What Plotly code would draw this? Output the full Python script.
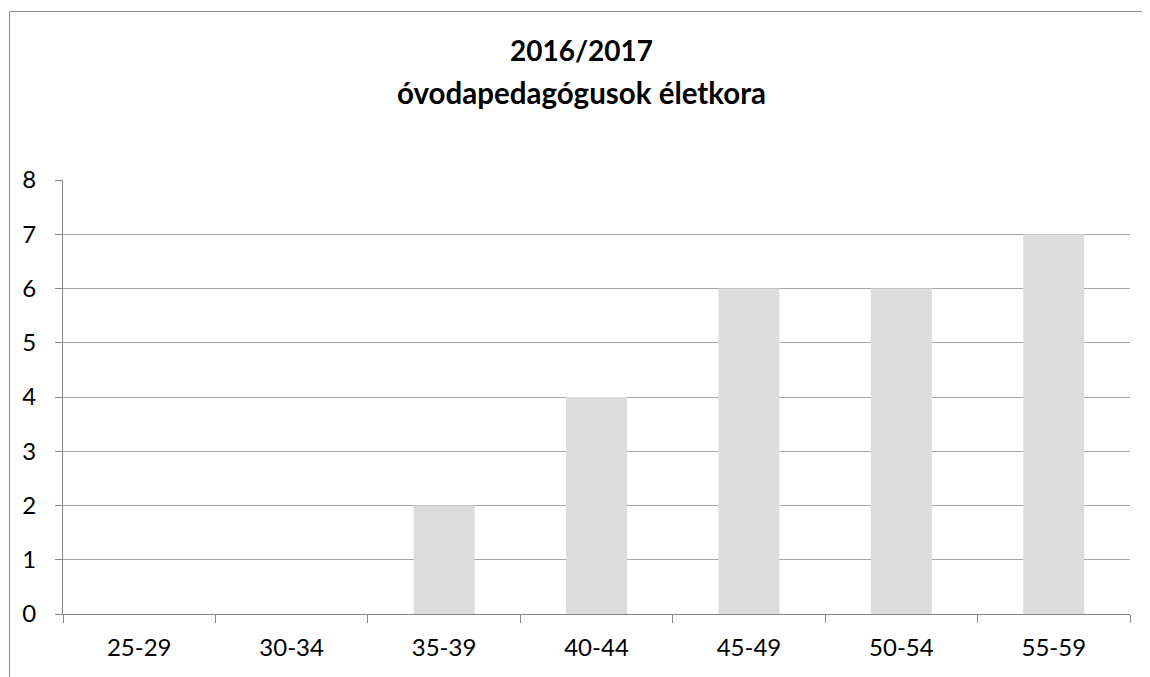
import plotly.graph_objects as go

categories = ["25-29", "30-34", "35-39", "40-44", "45-49", "50-54", "55-59"]
values = [0, 0, 2, 4, 6, 6, 7]
title_line1 = "2016/2017"
title_line2 = "óvodapedagógusok életkora"

OFF = 8  # page body margin
W, H = 1150 - OFF, 677 - OFF
# plot area in page coordinates: x 63..1130, y 180..614
L = 63 - OFF
R = W - (1130 - OFF)
T = 180 - OFF
B = H - (614 - OFF)
pw = W - L - R
ph = H - T - B

def px_x(x):
    return (x - OFF - L) / pw

def px_y(y):
    return (H - B - (y - OFF)) / ph

FONT = "Lato"

fig = go.Figure(go.Bar(x=categories, y=values, marker=dict(color="#dcdcdc", line=dict(width=0)),
                       hoverinfo="x+y"))

fig.update_layout(
    width=W, height=H,
    margin=dict(l=L, r=R, t=T, b=B),
    paper_bgcolor="white", plot_bgcolor="white",
    bargap=0.6,
    showlegend=False,
    font=dict(family=FONT, color="#000000"),
)
fig.update_xaxes(
    type="category",
    showline=True, linecolor="#868686", linewidth=1,
    ticks="outside", tickson="boundaries", ticklen=8, tickcolor="#868686",
    tickfont=dict(family=FONT, size=24, color="#000000"),
    showgrid=False, zeroline=False,
    ticklabelstandoff=12,
)
fig.update_yaxes(
    range=[0, 8], dtick=1, tick0=0,
    showline=True, linecolor="#868686", linewidth=1,
    ticks="outside", ticklen=7, tickcolor="#868686",
    tickfont=dict(family=FONT, size=24, color="#000000"),
    showgrid=True, gridcolor="#a6a6a6", gridwidth=1,
    zeroline=False,
    ticklabelstandoff=14,
)

# chart border (left and top edges visible)
border = dict(color="#8c8c8c", width=1)
fig.add_shape(type="line", xref="paper", yref="paper",
              x0=px_x(9.5), x1=px_x(1150), y0=px_y(11.5), y1=px_y(11.5), line=border, layer="below")
fig.add_shape(type="line", xref="paper", yref="paper",
              x0=px_x(9.5), x1=px_x(9.5), y0=px_y(11.5), y1=px_y(677), line=border, layer="below")

cx = px_x(581)
fig.add_annotation(text=f"<b>{title_line1}</b>", xref="paper", yref="paper",
                   x=cx, y=px_y(50), xanchor="center", yanchor="middle", showarrow=False,
                   font=dict(family=FONT, size=28, color="#000000"))
fig.add_annotation(text=f"<b>{title_line2}</b>", xref="paper", yref="paper",
                   x=cx, y=px_y(92), xanchor="center", yanchor="middle", showarrow=False,
                   font=dict(family=FONT, size=29.5, color="#000000"))

fig.write_html("out.html", config={"displayModeBar": False})
